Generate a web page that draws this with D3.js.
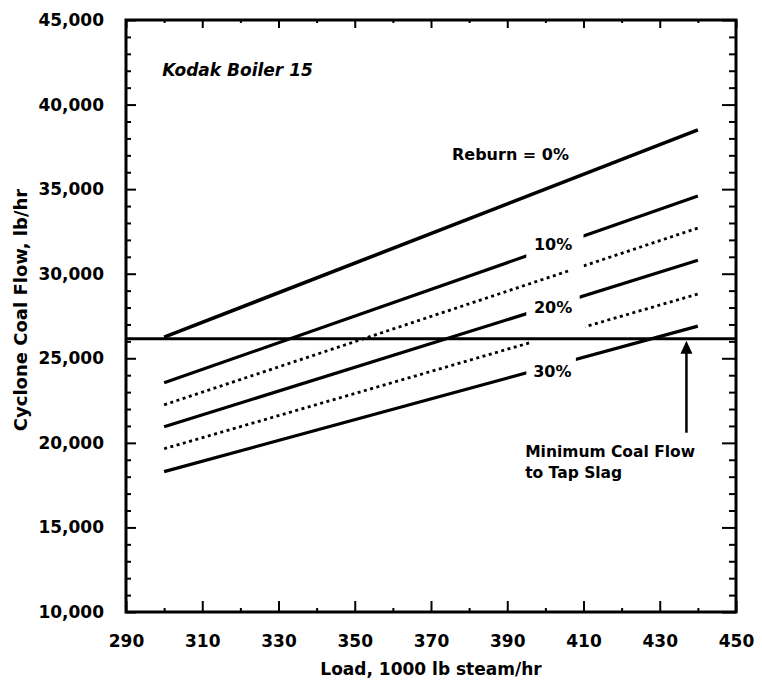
<!DOCTYPE html>
<html>
<head>
<meta charset="utf-8">
<script src="https://cdn.jsdelivr.net/npm/d3@7/dist/d3.min.js"></script>
<style>
  html, body { margin: 0; padding: 0; background: #fff; }
  svg { display: block; }
  text { font-family: "DejaVu Sans", sans-serif; font-weight: bold; fill: #000; }
</style>
</head>
<body>
<svg id="chart" width="762" height="680"></svg>
<script>
// ---- data ----
const loadRange = [300, 440];                 // x extent of every reburn line (1000 lb steam/hr)
const reburnLabels = ["0%", "10%", "15%", "20%", "25%", "30%"];
const reburn0  = [26250, 38500];
const reburn10 = [23550, 34600];
const reburn15 = [22250, 32700];
const reburn20 = [20950, 30800];
const reburn25 = [19650, 28800];
const reburn30 = [18300, 26900];
const dashed   = [false, false, true, false, true, false];
const gaps     = [null, [395, 410], [406.5, 410], [395, 409], [396.5, 410.5], [395, 408]];
const minCoalFlow = 26150;
const arrowLoad = 437;
const arrowBottom = 20600;
const xTickLabels = [290, 310, 330, 350, 370, 390, 410, 430, 450];
const xMinorTicks = [300, 320, 340, 360, 380, 400, 420, 440];
const yTickLabels = [10000, 15000, 20000, 25000, 30000, 35000, 40000, 45000];
const yMinorTicks = d3.range(11000, 45000, 1000).filter(v => v % 5000 !== 0);

const series = [reburn0, reburn10, reburn15, reburn20, reburn25, reburn30];

// ---- layout ----
const svg = d3.select("#chart");
const L = 126, R = 736, T = 20, B = 612;
const x = d3.scaleLinear().domain([290, 450]).range([L, R]);
const y = d3.scaleLinear().domain([10000, 45000]).range([B, T]);
const fmt = d3.format(",");

// clip paths for the label gaps
const defs = svg.append("defs");
series.forEach((s, i) => {
  const cp = defs.append("clipPath").attr("id", "clip" + i);
  const g = gaps[i];
  if (!g) {
    cp.append("rect").attr("x", L).attr("y", T).attr("width", R - L).attr("height", B - T);
  } else {
    cp.append("rect").attr("x", L).attr("y", T).attr("width", x(g[0]) - L).attr("height", B - T);
    cp.append("rect").attr("x", x(g[1])).attr("y", T).attr("width", R - x(g[1])).attr("height", B - T);
  }
});

// axes
function styleAxis(g) {
  g.select(".domain").remove();
  g.selectAll(".tick line").attr("stroke", "#000").attr("stroke-width", 2);
  g.selectAll("text").attr("font-size", 17).style("font-family", "DejaVu Sans").style("font-weight", "bold");
}
// bottom
svg.append("g").attr("transform", `translate(0,${B})`)
  .call(d3.axisBottom(x).tickValues(xTickLabels).tickSizeInner(-11).tickSizeOuter(0).tickPadding(23).tickFormat(d3.format("d")))
  .call(styleAxis);
svg.append("g").attr("transform", `translate(0,${B})`)
  .call(d3.axisBottom(x).tickValues(xMinorTicks).tickSizeInner(-4).tickSizeOuter(0).tickFormat(""))
  .call(styleAxis);
// top
svg.append("g").attr("transform", `translate(0,${T})`)
  .call(d3.axisTop(x).tickValues(xTickLabels).tickSizeInner(-8).tickSizeOuter(0).tickFormat(""))
  .call(styleAxis);
svg.append("g").attr("transform", `translate(0,${T})`)
  .call(d3.axisTop(x).tickValues(xMinorTicks).tickSizeInner(-3).tickSizeOuter(0).tickFormat(""))
  .call(styleAxis);
// left
svg.append("g").attr("transform", `translate(${L},0)`)
  .call(d3.axisLeft(y).tickValues(yTickLabels).tickSizeInner(-10).tickSizeOuter(0).tickPadding(22).tickFormat(fmt))
  .call(styleAxis);
svg.append("g").attr("transform", `translate(${L},0)`)
  .call(d3.axisLeft(y).tickValues(yMinorTicks).tickSizeInner(-5).tickSizeOuter(0).tickFormat(""))
  .call(styleAxis);
// right
svg.append("g").attr("transform", `translate(${R},0)`)
  .call(d3.axisRight(y).tickValues(yTickLabels).tickSizeInner(-14).tickSizeOuter(0).tickFormat(""))
  .call(styleAxis);
svg.append("g").attr("transform", `translate(${R},0)`)
  .call(d3.axisRight(y).tickValues(yMinorTicks).tickSizeInner(-7).tickSizeOuter(0).tickFormat(""))
  .call(styleAxis);

// frame
svg.append("rect").attr("x", L).attr("y", T).attr("width", R - L).attr("height", B - T)
  .attr("fill", "none").attr("stroke", "#000").attr("stroke-width", 3);

// reburn lines
const line = d3.line().x(d => x(d[0])).y(d => y(d[1]));
series.forEach((s, i) => {
  const pts = loadRange.map((l, j) => [l, s[j]]);
  svg.append("path").attr("d", line(pts))
    .attr("clip-path", `url(#clip${i})`)
    .attr("fill", "none").attr("stroke", "#000")
    .attr("stroke-width", dashed[i] ? 2.8 : (i === 0 ? 3.6 : 3.2))
    .attr("stroke-dasharray", dashed[i] ? "3,3.5" : null);
});

// minimum coal flow line
svg.append("path").attr("d", line([[290, minCoalFlow], [450, minCoalFlow]]))
  .attr("fill", "none").attr("stroke", "#000").attr("stroke-width", 3);

// arrow
const ax = x(arrowLoad), aTip = y(minCoalFlow) + 2;
svg.append("line").attr("x1", ax).attr("x2", ax).attr("y1", y(arrowBottom)).attr("y2", aTip + 10)
  .attr("stroke", "#000").attr("stroke-width", 2.5);
svg.append("path").attr("d", `M${ax},${aTip} L${ax - 6},${aTip + 13} L${ax + 6},${aTip + 13} Z`).attr("fill", "#000");

// texts
svg.append("text").attr("x", x(299.5)).attr("y", y(41700)).attr("font-size", 17)
  .attr("font-style", "italic").text("Kodak Boiler 15");
svg.append("text").attr("x", x(375.5)).attr("y", y(36720)).attr("font-size", 16).text("Reburn = 0%");
svg.append("text").attr("x", x(397)).attr("y", y(31400)).attr("font-size", 16).text("10%");
svg.append("text").attr("x", x(397)).attr("y", y(27680)).attr("font-size", 16).text("20%");
svg.append("text").attr("x", x(396.8)).attr("y", y(23890)).attr("font-size", 16).text("30%");
svg.append("text").attr("x", x(394.7)).attr("y", y(19165)).attr("font-size", 15.5).text("Minimum Coal Flow");
svg.append("text").attr("x", x(394.7)).attr("y", y(17900)).attr("font-size", 15.5).text("to Tap Slag");

// axis titles
svg.append("text").attr("x", (L + R) / 2).attr("y", 675).attr("text-anchor", "middle")
  .attr("font-size", 17).text("Load, 1000 lb steam/hr");
svg.append("text").attr("transform", `translate(27,310) rotate(-90)`).attr("text-anchor", "middle")
  .attr("font-size", 18).text("Cyclone Coal Flow, lb/hr");
</script>
</body>
</html>
